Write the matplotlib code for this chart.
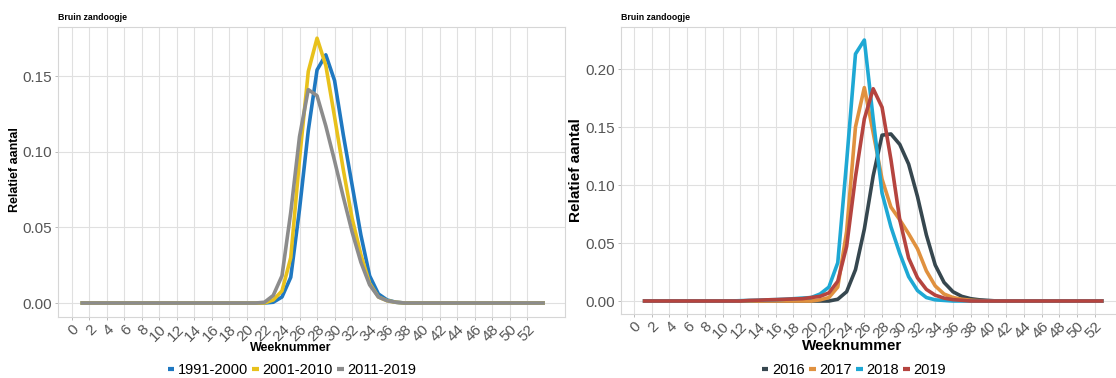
import matplotlib
matplotlib.use("Agg")
import matplotlib.pyplot as plt
from matplotlib.lines import Line2D

plt.rcParams['font.family'] = ['Liberation Sans', 'DejaVu Sans']

# weeks for each panel
weken_links = list(range(1, 55))
weken_rechts = list(range(1, 54))

# left panel: periods
p1991 = [0]*22 + [0.0005, 0.004, 0.017, 0.062, 0.114, 0.154, 0.164, 0.147, 0.111, 0.078,
                  0.045, 0.018, 0.006, 0.002, 0.0005] + [0]*17
p2001 = [0]*22 + [0.002, 0.008, 0.03, 0.095, 0.153, 0.175, 0.157, 0.123, 0.088, 0.056,
                  0.032, 0.013, 0.004, 0.0015, 0.0005] + [0]*17
p2011 = [0]*21 + [0.0005, 0.005, 0.018, 0.06, 0.11, 0.141, 0.137, 0.117, 0.094, 0.07,
                  0.047, 0.027, 0.012, 0.004, 0.0015, 0.0005] + [0]*17

# right panel: years
j2016 = [0]*22 + [0.0015, 0.008, 0.027, 0.062, 0.108, 0.143, 0.144, 0.135, 0.118, 0.09,
                  0.057, 0.031, 0.016, 0.008, 0.004, 0.002, 0.001, 0.0005] + [0]*13
j2017 = [0]*20 + [0.001, 0.003, 0.012, 0.06, 0.15, 0.184, 0.145, 0.105, 0.081, 0.07,
                  0.058, 0.045, 0.026, 0.013, 0.006, 0.003, 0.0015, 0.0007, 0.0003] + [0]*14
j2018 = [0]*11 + [0.0003, 0.0005, 0.0007, 0.001, 0.0012, 0.0015, 0.002, 0.0025, 0.003,
                  0.006, 0.012, 0.033, 0.12, 0.213, 0.225, 0.157, 0.093, 0.064, 0.041,
                  0.021, 0.009, 0.003, 0.001, 0.0005] + [0]*18
j2019 = [0]*12 + [0.0005, 0.0007, 0.001, 0.0012, 0.0015, 0.0018, 0.002, 0.003, 0.004,
                  0.007, 0.017, 0.047, 0.107, 0.157, 0.183, 0.167, 0.122, 0.07, 0.037,
                  0.02, 0.01, 0.005, 0.0025, 0.0012, 0.0006] + [0]*16

links = [("1991-2000", p1991, '#1f78c1'), ("2001-2010", p2001, '#e8c11c'), ("2011-2019", p2011, '#8c8c8c')]
rechts = [("2016", j2016, '#36474f'), ("2017", j2017, '#e0913f'), ("2018", j2018, '#1ea8d4'), ("2019", j2019, '#b5443f')]

W, H = 1116, 378
fig = plt.figure(figsize=(W/100, H/100), dpi=100)


def px(x0, y0, x1, y1):
    return [x0/W, 1 - y1/H, (x1 - x0)/W, (y1 - y0)/H]


def opmaak(ax, yticks, ysize):
    ax.set_xticks(range(0, 53, 2))
    ax.set_xticklabels([str(t) for t in range(0, 53, 2)], rotation=45, ha='right',
                       va='top', rotation_mode='anchor', fontsize=11, color='#555555')
    ax.set_yticks(yticks)
    ax.set_yticklabels(['%.2f' % t for t in yticks], fontsize=ysize, color='#555555')
    ax.grid(True, color='#e0e0e0', lw=0.8)
    ax.set_axisbelow(True)
    for s in ax.spines.values():
        s.set_color('#d6d6d6')
        s.set_linewidth(0.8)
    ax.tick_params(length=2.5, width=0.7, color='#bbbbbb', pad=1.5)


ax1 = fig.add_axes(px(57.7, 26.7, 565, 316.7))
for naam, waarden, kleur in links:
    ax1.plot(weken_links, waarden, color=kleur, lw=2.6, label=naam, solid_capstyle='butt')
ax1.set_xlim(-1.6, 56.3)
ax1.set_ylim(-0.00905, 0.1826)
opmaak(ax1, [0, 0.05, 0.10, 0.15], 11)

ax2 = fig.add_axes(px(620.7, 26.7, 1125.7, 314))
for naam, waarden, kleur in rechts:
    ax2.plot(weken_rechts, waarden, color=kleur, lw=2.6, label=naam, solid_capstyle='butt')
ax2.set_xlim(-1.5, 55.5)
ax2.set_ylim(-0.0112, 0.2365)
opmaak(ax2, [0, 0.05, 0.10, 0.15, 0.20], 11)

# titles and axis titles
fig.text(57.7/W, 1 - 17.5/H, "Bruin zandoogje", fontsize=6.3, fontweight='bold', va='center', ha='left')
fig.text(620.7/W, 1 - 17.5/H, "Bruin zandoogje", fontsize=6.3, fontweight='bold', va='center', ha='left')
fig.text(291/W, 1 - 348/H, "Weeknummer", fontsize=9, fontweight='bold', ha='center', va='center')
fig.text(852/W, 1 - 346.5/H, "Weeknummer", fontsize=11, fontweight='bold', ha='center', va='center')
fig.text(15/W, 1 - 170/H, "Relatief aantal", fontsize=9, fontweight='bold', rotation=90, ha='center', va='center')
fig.text(576.5/W, 1 - 170/H, "Relatief aantal", fontsize=11, fontweight='bold', rotation=90, ha='center', va='center')

# legends
h1 = [Line2D([], [], color=k, lw=3, solid_capstyle='butt') for _, _, k in links]
fig.legend(h1, [n for n, _, _ in links], loc='center', bbox_to_anchor=(292/W, 1 - 370/H), ncol=3,
           frameon=False, fontsize=10.5, handlelength=0.45, handletextpad=0.25, columnspacing=0.3,
           borderpad=0, borderaxespad=0)
h2 = [Line2D([], [], color=k, lw=3, solid_capstyle='butt') for _, _, k in rechts]
fig.legend(h2, [n for n, _, _ in rechts], loc='center', bbox_to_anchor=(854/W, 1 - 370.5/H), ncol=4,
           frameon=False, fontsize=10.5, handlelength=0.45, handletextpad=0.25, columnspacing=0.3,
           borderpad=0, borderaxespad=0)

fig.savefig("out.png", dpi=100)
